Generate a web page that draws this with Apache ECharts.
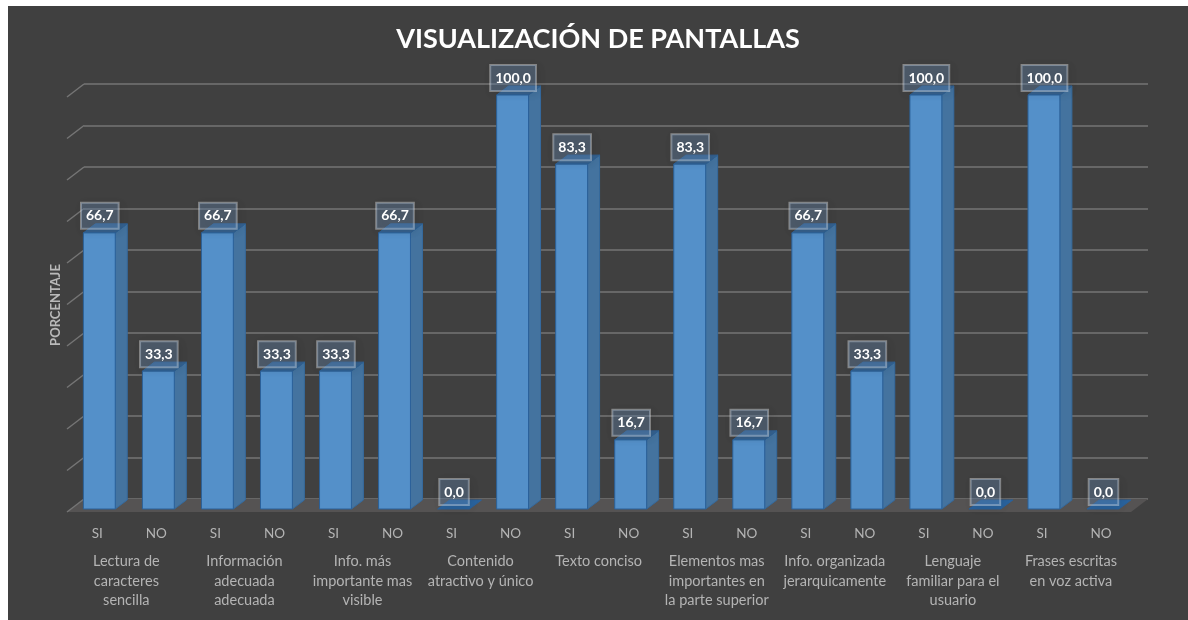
<!DOCTYPE html>
<html>
<head>
<meta charset="utf-8">
<style>
  html, body { margin: 0; height: 100%; background: #fff; overflow: hidden; }
  #chart { position: absolute; left: 8px; top: 6px; width: 1180px; height: 614px; }
</style>
<script src="https://cdn.jsdelivr.net/npm/echarts@6/dist/echarts.min.js"></script>
</head>
<body>
<div id="chart"></div>
<script>
const groups = [
  'Lectura de\ncaracteres\nsencilla',
  'Información\nadecuada\nadecuada',
  'Info. más\nimportante mas\nvisible',
  'Contenido\natractivo y único',
  'Texto conciso',
  'Elementos mas\nimportantes en\nla parte superior',
  'Info. organizada\njerarquicamente',
  'Lenguaje\nfamiliar para el\nusuario',
  'Frases escritas\nen voz activa'
];
const answers = ['SI', 'NO', 'SI', 'NO', 'SI', 'NO', 'SI', 'NO', 'SI', 'NO', 'SI', 'NO', 'SI', 'NO', 'SI', 'NO', 'SI', 'NO'];
const values = [66.7, 33.3, 66.7, 33.3, 33.3, 66.7, 0, 100, 83.3, 16.7, 83.3, 16.7, 66.7, 33.3, 100, 0, 100, 0];
const wallTicks = [0, 10, 20, 30, 40, 50, 60, 70, 80, 90, 100];

const DX = 12, DY = -9;      // bar depth
const WALL_X = -17, WALL_Y = 13; // floor depth at the left side

const chart = echarts.init(document.getElementById('chart'));

function poly(points, fill, stroke) {
  return {
    type: 'polygon',
    shape: { points: points },
    style: { fill: fill, stroke: stroke, lineWidth: 1 }
  };
}

function renderFloor(params, api) {
  const a = api.coord([0, 0]);
  const b = api.coord([1, 0]);
  return poly([
    [a[0], a[1]], [b[0], b[1]],
    [b[0] + WALL_X, b[1] + WALL_Y], [a[0] + WALL_X, a[1] + WALL_Y]
  ], '#555353', null);
}

function renderWallTick(params, api) {
  const p = api.coord([0, api.value(0)]);
  return {
    type: 'line',
    shape: { x1: p[0] + WALL_X, y1: p[1] + WALL_Y, x2: p[0], y2: p[1] },
    style: { stroke: '#757575', lineWidth: 1.5 }
  };
}

function renderBar(params, api) {
  const idx = api.value(0);
  const top = api.coord([idx, api.value(1)]);
  const base = api.coord([idx, 0]);
  const w = api.size([1, 0])[0] * 0.54;
  const l = top[0] - w / 2, r = top[0] + w / 2;
  const edge = '#2b6199';
  if (api.value(1) === 0) {
    return poly([[l, base[1]], [r, base[1]], [r + DX, base[1] + DY], [l + DX, base[1] + DY]], '#2a649f', edge);
  }
  return {
    type: 'group',
    children: [
      poly([[r, top[1]], [r + DX, top[1] + DY], [r + DX, base[1] + DY], [r, base[1]]], '#44739f', '#356a9e'),
      poly([[l, top[1]], [l + DX, top[1] + DY], [r + DX, top[1] + DY], [r, top[1]]], '#36628f', '#2f6296'),
      poly([[l, top[1]], [r, top[1]], [r, base[1]], [l, base[1]]], '#5490c9', edge)
    ]
  };
}

function renderLabel(params, api) {
  const v = api.value(1);
  const p = api.coord([api.value(0), v]);
  return {
    type: 'text',
    x: p[0] + 0.5,
    y: p[1] - 17,
    z2: 10,
    style: {
      text: v.toFixed(1).replace('.', ','),
      fill: '#ffffff',
      font: 'bold 14px Lato',
      align: 'center',
      verticalAlign: 'middle',
      backgroundColor: 'rgba(110,150,195,0.32)',
      borderColor: 'rgba(255,255,255,0.38)',
      borderWidth: 1,
      padding: [6, 5],
      shadowColor: 'rgba(0,0,0,0.25)',
      shadowBlur: 8,
      shadowOffsetX: 2,
      shadowOffsetY: 2
    }
  };
}

chart.setOption({
  animation: false,
  backgroundColor: '#404040',
  title: {
    text: 'VISUALIZACIÓN DE PANTALLAS',
    left: 'center',
    top: 15,
    textStyle: { color: '#ffffff', fontFamily: 'Lato', fontWeight: 'bold', fontSize: 27 }
  },
  graphic: [{
    type: 'text',
    x: 48,
    y: 299,
    rotation: Math.PI / 2,
    style: {
      text: 'PORCENTAJE',
      fill: '#b9b9b9',
      font: 'bold 13px Lato',
      align: 'center',
      verticalAlign: 'middle'
    }
  }],
  grid: [
    { left: 76, top: 78, width: 1064, height: 415, outerBoundsMode: 'none' },
    { left: 61.8, top: 89, width: 1062.7, height: 414, outerBoundsMode: 'none' }
  ],
  xAxis: [
    { gridIndex: 0, type: 'value', min: 0, max: 1, show: false },
    {
      gridIndex: 1,
      type: 'category',
      position: 'bottom',
      data: answers,
      axisLine: { show: false },
      axisTick: { show: false },
      axisLabel: {
        interval: 0,
        margin: 18,
        color: '#b4b4b4',
        fontFamily: 'Lato',
        fontSize: 13.5,
        padding: [0, 4, 0, 0]
      }
    },
    {
      gridIndex: 1,
      type: 'category',
      position: 'bottom',
      data: groups,
      axisLine: { show: false },
      axisTick: { show: false },
      axisLabel: {
        interval: 0,
        margin: 43,
        color: '#b4b4b4',
        fontFamily: 'Lato',
        fontSize: 14.5,
        lineHeight: 19.5,
        padding: [0, 5, 0, 0]
      }
    }
  ],
  yAxis: [
    {
      gridIndex: 0,
      type: 'value',
      min: 0,
      max: 100,
      interval: 10,
      axisLine: { show: false },
      axisTick: { show: false },
      axisLabel: { show: false },
      splitLine: { show: true, lineStyle: { color: '#757575', width: 1.5 } }
    },
    { gridIndex: 1, type: 'value', min: 0, max: 100, interval: 10, show: false }
  ],
  series: [
    {
      type: 'custom',
      xAxisIndex: 0,
      yAxisIndex: 0,
      z: 1,
      silent: true,
      renderItem: renderFloor,
      encode: { x: 0, y: 1 },
      data: [[0, 0]]
    },
    {
      type: 'custom',
      xAxisIndex: 0,
      yAxisIndex: 0,
      z: 2,
      silent: true,
      renderItem: renderWallTick,
      encode: { y: 0 },
      data: wallTicks.map(v => [v])
    },
    {
      type: 'custom',
      xAxisIndex: 1,
      yAxisIndex: 1,
      z: 3,
      renderItem: renderBar,
      encode: { x: 0, y: 1 },
      data: values.map((v, i) => [i, v])
    },
    {
      type: 'custom',
      xAxisIndex: 1,
      yAxisIndex: 1,
      z: 4,
      silent: true,
      renderItem: renderLabel,
      encode: { x: 0, y: 1 },
      data: values.map((v, i) => [i, v])
    }
  ]
});
</script>
</body>
</html>
